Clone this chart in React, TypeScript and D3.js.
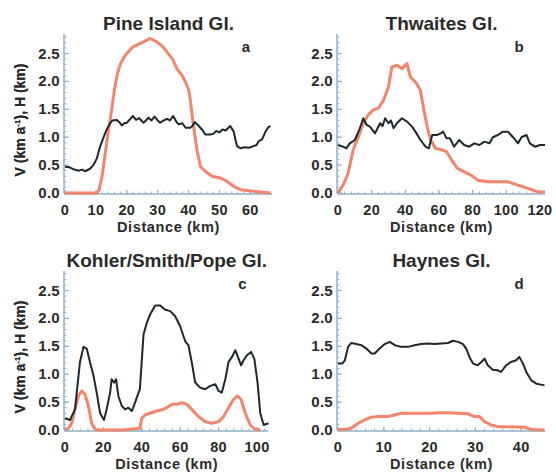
import * as d3 from "d3";

// distance (km) / value pairs
const pineIslandH: [number, number][] = [
  [0, 0.47], [1.5, 0.46], [3, 0.42], [4.5, 0.4], [5.5, 0.42], [6.5, 0.39], [8, 0.43], [9.2, 0.5],
  [10.3, 0.62], [11.4, 0.84], [12.5, 1.0], [13.5, 1.14], [14.5, 1.24], [15.3, 1.3], [16.8, 1.31],
  [17.6, 1.27], [18.4, 1.21], [19.2, 1.25], [20, 1.26], [21, 1.32], [22, 1.38], [23, 1.31], [24, 1.34],
  [25.4, 1.26], [26.2, 1.3], [27, 1.35], [28, 1.3], [29, 1.37], [30, 1.3], [30.8, 1.26], [32, 1.3],
  [33, 1.33], [34, 1.3], [35, 1.38], [36, 1.28], [36.8, 1.23], [38, 1.25], [39, 1.17], [40.5, 1.17],
  [41.2, 1.2], [42, 1.27], [43, 1.22], [43.8, 1.17], [44.6, 1.12], [45.4, 1.05], [47, 1.05], [48, 1.06],
  [49, 1.11], [50, 1.09], [51, 1.14], [52, 1.12], [53.5, 1.2], [54.6, 1.1], [55.2, 0.95], [55.7, 0.84],
  [56.8, 0.8], [58, 0.82], [59.5, 0.81], [61, 0.84], [62, 0.86], [62.7, 0.93], [63.8, 0.96],
  [64.9, 1.1], [65.8, 1.18], [66.5, 1.2],
];
const pineIslandV: [number, number][] = [
  [0, 0], [5, 0], [10.3, 0], [11, 0.05], [12, 0.3], [13, 0.7], [14, 1.1], [15, 1.45], [16, 1.85],
  [17, 2.15], [18, 2.32], [19.5, 2.47], [22, 2.62], [25.4, 2.71], [27.6, 2.77], [29.7, 2.71],
  [31.5, 2.63], [33, 2.53], [34.8, 2.4], [36.2, 2.23], [38, 2.1], [39, 1.99], [40, 1.85], [40.5, 1.69],
  [41.6, 1.2], [42.7, 0.78], [43.8, 0.48], [45.4, 0.39], [47.6, 0.3], [50.3, 0.27], [52.4, 0.21],
  [54.6, 0.12], [56.8, 0.06], [61, 0.03], [66.5, 0],
];

const thwaitesH: [number, number][] = [
  [0, 0.86], [3, 0.83], [5, 0.8], [7, 0.89], [10, 0.95], [13, 1.16], [15, 1.34], [17, 1.22], [19, 1.19],
  [22, 1.07], [25, 1.25], [26.5, 1.2], [28, 1.34], [30, 1.25], [31.5, 1.3], [33, 1.16], [35, 1.25],
  [38, 1.34], [41, 1.28], [44, 1.19], [46, 1.1], [49, 0.95], [52, 0.83], [54, 0.8], [56, 1.04],
  [59, 1.04], [61, 1.07], [62.5, 1.1], [64.5, 0.98], [66.5, 0.98], [69, 0.83], [72, 0.95], [75, 0.86],
  [78, 0.83], [81, 0.89], [84, 0.86], [87, 0.92], [90, 0.89], [92, 1.0], [95, 1.04], [98, 1.1],
  [101, 1.1], [104, 1.0], [107, 0.89], [109, 1.0], [112, 1.04], [114, 0.89], [117, 0.83], [120, 0.86],
  [123, 0.86],
];
const thwaitesV: [number, number][] = [
  [0, 0], [3, 0.14], [6, 0.35], [9, 0.77], [12, 1.0], [15, 1.25], [18, 1.4], [21, 1.49], [24, 1.52],
  [27, 1.66], [30, 1.9], [32, 2.26], [35, 2.29], [38, 2.23], [41, 2.32], [43, 2.08], [46, 1.99],
  [49, 1.84], [51, 1.49], [53, 1.19], [55, 0.95], [58, 0.8], [62, 0.77], [64.5, 0.74], [67.5, 0.59],
  [71, 0.44], [75, 0.38], [79, 0.32], [83, 0.23], [89, 0.2], [95, 0.2], [101, 0.2], [107, 0.14],
  [113, 0.08], [119, 0.02], [123, 0.02],
];

const kohlerH: [number, number][] = [
  [0, 0.21], [2.6, 0.18], [5.2, 0.37], [7.8, 1.22], [9.6, 1.49], [11.3, 1.46], [13, 1.22], [14.8, 0.98],
  [16.5, 0.67], [18.3, 0.3], [20.3, 0.18], [21.7, 0.37], [23.5, 0.67], [24.3, 0.91], [25.6, 0.85],
  [26.6, 0.91], [27.8, 0.61], [29.6, 0.43], [31.3, 0.37], [33, 0.4], [34.8, 0.34], [36.5, 0.49],
  [38.3, 0.67], [39, 0.73], [40.9, 1.71], [42.6, 1.92], [44.3, 2.07], [47, 2.23], [49.6, 2.23],
  [52, 2.16], [54.8, 2.13], [57.4, 2.04], [60, 1.86], [62.6, 1.59], [64.3, 1.52], [66, 1.22],
  [67.8, 0.85], [70.4, 0.76], [73, 0.73], [75.7, 0.79], [78.3, 0.82], [80, 0.7], [81.7, 0.67],
  [83.5, 0.91], [85.2, 1.22], [87, 1.31], [88.7, 1.43], [90.4, 1.28], [91.7, 1.16], [93, 1.25],
  [94.8, 1.34], [96.9, 1.4], [98.6, 1.28], [100.3, 0.85], [101.7, 0.3], [103.5, 0.09], [106, 0.12],
];
const kohlerV: [number, number][] = [
  [0, 0], [1.7, 0.03], [3.5, 0.12], [5.2, 0.37], [7, 0.61], [8.7, 0.7], [10.4, 0.64], [12.2, 0.43],
  [13.9, 0.12], [15.7, 0.01], [18.3, 0], [30, 0], [39, 0.03], [40, 0.21], [41.7, 0.27], [44.3, 0.3],
  [47.8, 0.34], [51.3, 0.37], [53, 0.4], [55.7, 0.46], [58.3, 0.46], [60.9, 0.49], [63.5, 0.46],
  [66, 0.37], [69.6, 0.24], [73, 0.15], [76.5, 0.12], [80, 0.15], [82.6, 0.24], [85.2, 0.4],
  [87.8, 0.55], [89.9, 0.61], [91.7, 0.55], [93.9, 0.3], [96.5, 0.09], [99, 0.01], [101.7, 0],
];

const haynesH: [number, number][] = [
  [0, 1.19], [0.9, 1.19], [1.5, 1.25], [2.2, 1.49], [2.9, 1.56], [4, 1.54], [5.1, 1.52], [6.2, 1.46],
  [7.3, 1.37], [8, 1.37], [9.1, 1.46], [10.2, 1.54], [11.3, 1.58], [12.4, 1.52], [13.8, 1.49],
  [15.3, 1.49], [16.7, 1.52], [18.2, 1.54], [19.6, 1.55], [21.1, 1.54], [22.5, 1.55], [24, 1.56],
  [25.1, 1.6], [26.2, 1.58], [27.3, 1.54], [28, 1.46], [28.7, 1.31], [29.5, 1.19], [30.5, 1.16],
  [31.3, 1.22], [32, 1.28], [32.7, 1.16], [33.8, 1.08], [34.9, 1.07], [35.6, 1.04], [36.7, 1.16],
  [37.8, 1.22], [38.9, 1.25], [39.6, 1.31], [40.4, 1.19], [41.1, 1.04], [42.2, 0.89], [43.3, 0.83],
  [45.1, 0.8],
];
const haynesV: [number, number][] = [
  [0, 0.01], [1.5, 0.01], [2.9, 0.03], [4.4, 0.12], [5.8, 0.18], [7.3, 0.23], [8.7, 0.24], [10.9, 0.24],
  [12.4, 0.27], [13.8, 0.3], [16, 0.3], [18.2, 0.3], [20.4, 0.3], [22.5, 0.31], [24, 0.31], [26.2, 0.3],
  [28.4, 0.29], [29.8, 0.24], [30.9, 0.24], [32, 0.15], [33.5, 0.09], [34.9, 0.06], [37.8, 0.06],
  [40.7, 0.05], [42.2, 0.01], [45.1, 0],
];

const panelTitles = ["Pine Island Gl.", "Thwaites Gl.", "Kohler/Smith/Pope Gl.", "Haynes Gl."];
const panelLetters = ["a", "b", "c", "d"];
const xMaxes = [67, 123, 106, 45.2];
const xTickValues = [
  [0, 10, 20, 30, 40, 50, 60],
  [0, 20, 40, 60, 80, 100, 120],
  [0, 20, 40, 60, 80, 100],
  [0, 10, 20, 30, 40],
];
const yTickValues = [0, 0.5, 1.0, 1.5, 2.0, 2.5];

const AXIS = "#8fb0c8";
const INK = "#2a2a2a";
const HCOL = "#1d272c";
const VCOL = "#f4846a";
const FONT = "'Liberation Sans', Arial, Helvetica, sans-serif";

type PanelProps = {
  ox: number;
  oy: number;
  x0: number;
  x1: number;
  idx: number;
  h: [number, number][];
  v: [number, number][];
};

function Panel({ ox, oy, x0, x1, idx, h, v }: PanelProps) {
  const x = d3.scaleLinear().domain([0, xMaxes[idx]]).range([x0, x1]);
  const y = d3.scaleLinear().domain([0, 2.85]).range([193, 34]);
  const line = d3
    .line<[number, number]>()
    .x((d) => x(d[0]))
    .y((d) => y(d[1]));
  const majors = xTickValues[idx];
  const xStep = majors[1] - majors[0];
  const xMinor = d3.range(0, xMaxes[idx] + 0.001, xStep / 5);
  const yMinor = d3.range(0, 2.81, 0.1);
  const yAxisX = x0 - 1;
  const cx = (x0 + x1) / 2;

  return (
    <g transform={`translate(${ox},${oy})`} fontFamily={FONT} fontWeight="bold" fill={INK}>
      <text x={cx} y={30} fontSize={19} textAnchor="middle">
        {panelTitles[idx]}
      </text>
      <text x={x1 - 26} y={52} fontSize={15} textAnchor="middle">
        {panelLetters[idx]}
      </text>

      {/* y axis */}
      <line x1={yAxisX} x2={yAxisX} y1={y(2.85)} y2={y(0)} stroke={AXIS} strokeWidth={1.5} />
      {yMinor.map((t) => (
        <line key={"ym" + t} x1={yAxisX} x2={yAxisX + 2.5} y1={y(t)} y2={y(t)} stroke={AXIS} strokeWidth={1} />
      ))}
      {yTickValues.map((t) => (
        <g key={"y" + t}>
          <line x1={yAxisX} x2={yAxisX + 5} y1={y(t)} y2={y(t)} stroke={AXIS} strokeWidth={1.2} />
          <text x={yAxisX - 4} y={y(t) + 5} fontSize={15} textAnchor="end" letterSpacing={0.3}>
            {t.toFixed(1)}
          </text>
        </g>
      ))}

      {/* x axis */}
      <line x1={yAxisX} x2={x1} y1={y(0) + 1} y2={y(0) + 1} stroke={AXIS} strokeWidth={1.5} />
      {xMinor.map((t) => (
        <line key={"xm" + t} x1={x(t)} x2={x(t)} y1={y(0) + 1} y2={y(0) - 1.5} stroke={AXIS} strokeWidth={1} />
      ))}
      {majors.map((t) => (
        <g key={"x" + t}>
          <line x1={x(t)} x2={x(t)} y1={y(0) + 1} y2={y(0) - 3} stroke={AXIS} strokeWidth={1.2} />
          <text x={x(t)} y={215} fontSize={14.5} textAnchor="middle" letterSpacing={0.3}>
            {t}
          </text>
        </g>
      ))}
      <text x={cx} y={232} fontSize={14.5} textAnchor="middle" letterSpacing={0.6}>
        Distance (km)
      </text>
      <text transform={`translate(25,120) rotate(-90)`} fontSize={14} textAnchor="middle">
        V (km a<tspan dy={-5} fontSize={8}>-1</tspan>
        <tspan dy={5}>), H (km)</tspan>
      </text>

      <path d={line(v) ?? ""} fill="none" stroke={VCOL} strokeWidth={3} strokeLinejoin="round" />
      <path d={line(h) ?? ""} fill="none" stroke={HCOL} strokeWidth={2} strokeLinejoin="round" />
    </g>
  );
}

export default function App() {
  return (
    <svg
      width={556}
      height={474}
      style={{ position: "absolute", left: 0, top: 0, background: "#fff" }}
    >
      <rect width={556} height={474} fill="#fff" />
      <Panel ox={0} oy={0} x0={65} x1={272} idx={0} h={pineIslandH} v={pineIslandV} />
      <Panel ox={0} oy={0} x0={338} x1={545} idx={1} h={thwaitesH} v={thwaitesV} />
      <Panel ox={0} oy={237} x0={65} x1={268.5} idx={2} h={kohlerH} v={kohlerV} />
      <Panel ox={0} oy={237} x0={338} x1={545} idx={3} h={haynesH} v={haynesV} />
    </svg>
  );
}
